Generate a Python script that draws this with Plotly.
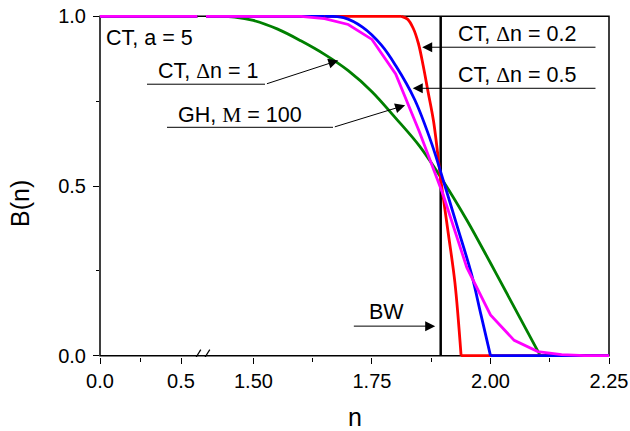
import plotly.graph_objects as go

FONT = "Liberation Sans, Arial, sans-serif"
SERIF = "Liberation Serif, Times New Roman, serif"

N_MIN, N_MAX = 1.40, 2.25   # n span drawn to the right of the axis break

# Start of the n axis, before the break: every profile sits at B = 1 there
n_low = [0.0, 0.6]
b_low = [1.0, 1.0]

# CT, Δn = 0.2 (falling part)
n_ct02 = [1.812, 1.825, 1.837, 1.848, 1.858, 1.868, 1.880, 1.896, 1.911, 1.925, 1.938]
b_ct02 = [1.0, 0.992, 0.965, 0.92, 0.855, 0.78, 0.69, 0.51, 0.36, 0.215, 0.0]

# CT, Δn = 0.5 (falling part)
n_ct05 = [1.65, 1.69, 1.73, 1.77, 1.80, 1.84, 1.876, 1.904, 1.93, 1.96, 1.98, 2.00]
b_ct05 = [1.0, 0.996, 0.968, 0.915, 0.855, 0.755, 0.625, 0.50, 0.38, 0.24, 0.12, 0.0]

# CT, Δn = 1 (falling part)
n_ct1 = [1.43, 1.46, 1.50, 1.55, 1.60, 1.65, 1.70, 1.75, 1.80, 1.85, 1.90,
         1.95, 2.00, 2.05, 2.105]
b_ct1 = [1.0, 0.998, 0.988, 0.963, 0.928, 0.888, 0.84, 0.778, 0.70, 0.618, 0.515,
         0.40, 0.273, 0.143, 0.0]

# GH, M = 100 (sampled every 0.05)
n_gh = [1.40, 1.45, 1.50, 1.55, 1.60, 1.65, 1.70, 1.75, 1.80, 1.85, 1.90,
        1.95, 2.00, 2.05, 2.10, 2.15, 2.20, 2.25]
b_gh = [1.0, 1.0, 1.0, 1.0, 1.0, 0.993, 0.976, 0.932, 0.83, 0.66, 0.475,
        0.26, 0.12, 0.045, 0.012, 0.003, 0.0, 0.0]

# Band-width (BW) edge
n_bw = [1.895, 1.895]
b_bw = [0.0, 1.0]

# Axis ticks
x1_ticks = [0.0, 0.5]
x1_labels = ["0.0", "0.5"]
x1_minor = [0.25]
x2_ticks = [1.50, 1.75, 2.00, 2.25]
x2_labels = ["1.50", "1.75", "2.00", "2.25"]
x2_minor = [1.625, 1.875, 2.125]
y_ticks = [0.0, 0.5, 1.0]
y_labels = ["0.0", "0.5", "1.0"]
y_minor = [0.25, 0.75]

RED, BLUE, GREEN, MAGENTA = "#ff0000", "#0000ff", "#008000", "#ff00ff"
LW = 2.8

fig = go.Figure()
fig.add_trace(go.Scatter(x=n_bw, y=b_bw, mode="lines", xaxis="x2", yaxis="y",
                         line=dict(color="black", width=2.5), name="BW"))


def add_left(col, name):
    fig.add_trace(go.Scatter(x=n_low, y=b_low, mode="lines", xaxis="x", yaxis="y",
                             line=dict(color=col, width=LW), name=name))


def add_smooth(n, b, col, name):
    """Flat top, smooth fall, flat zero tail."""
    add_left(col, name)
    fig.add_trace(go.Scatter(x=[N_MIN, n[0]], y=[b[0], b[0]], mode="lines",
                             xaxis="x2", yaxis="y", line=dict(color=col, width=LW),
                             name=name))
    fig.add_trace(go.Scatter(x=n, y=b, mode="lines", xaxis="x2", yaxis="y",
                             line=dict(color=col, width=LW, shape="spline", smoothing=1.0),
                             name=name))
    fig.add_trace(go.Scatter(x=[n[-1], N_MAX], y=[b[-1], b[-1]], mode="lines",
                             xaxis="x2", yaxis="y", line=dict(color=col, width=LW),
                             name=name))


add_smooth(n_ct1, b_ct1, GREEN, "CT, Δn = 1")
add_smooth(n_ct02, b_ct02, RED, "CT, Δn = 0.2")
add_smooth(n_ct05, b_ct05, BLUE, "CT, Δn = 0.5")
add_left(MAGENTA, "GH, M = 100")
fig.add_trace(go.Scatter(x=n_gh, y=b_gh, mode="lines", xaxis="x2", yaxis="y",
                         line=dict(color=MAGENTA, width=LW), name="GH, M = 100"))

SPLIT = 0.199
L, R, T, B = 100, 21, 15, 74
W, H = 630, 431
PW = W - L - R


def px(xp):
    """Horizontal pixel position -> paper fraction."""
    return (xp - L) / PW


tick_font = dict(family=FONT, size=20, color="black")
axis_common = dict(showgrid=False, zeroline=False, showline=False,
                   ticks="outside", ticklen=6, tickwidth=1.3, tickcolor="black",
                   tickfont=tick_font, fixedrange=True, automargin=False)
minor_common = dict(tickmode="array", ticks="outside", ticklen=3.5,
                    tickwidth=1.3, tickcolor="black")

fig.update_layout(
    width=W, height=H,
    margin=dict(l=L, r=R, t=T, b=B, pad=0, autoexpand=False),
    paper_bgcolor="white", plot_bgcolor="white",
    showlegend=False,
    font=dict(family=FONT, color="black"),
    xaxis=dict(domain=[0, SPLIT], range=[0, 0.625], anchor="y",
               tickmode="array", tickvals=x1_ticks, ticktext=x1_labels,
               minor=dict(tickvals=x1_minor, **minor_common), **axis_common),
    xaxis2=dict(domain=[SPLIT, 1], range=[1.39, N_MAX], anchor="y",
                tickmode="array", tickvals=x2_ticks, ticktext=x2_labels,
                minor=dict(tickvals=x2_minor, **minor_common), **axis_common),
    yaxis=dict(domain=[0, 1], range=[-0.004, 1.004], anchor="x",
               tickmode="array", tickvals=y_ticks, ticktext=y_labels,
               ticklabelstandoff=3,
               minor=dict(tickvals=y_minor, **minor_common), **axis_common),
)

shapes = [
    # frame
    dict(type="rect", xref="paper", yref="y", x0=0, x1=1, y0=0, y1=1,
         line=dict(color="black", width=1.5), layer="below"),
    # axis break marks
    dict(type="line", xref="paper", yref="y", xsizemode="pixel", ysizemode="pixel",
         xanchor=SPLIT, yanchor=0, x0=-8.5, x1=-0.5, y0=-7, y1=6,
         line=dict(color="black", width=1.2)),
    dict(type="line", xref="paper", yref="y", xsizemode="pixel", ysizemode="pixel",
         xanchor=SPLIT, yanchor=0, x0=0.3, x1=8.5, y0=-7, y1=6,
         line=dict(color="black", width=1.2)),
    # label underlines
    dict(type="line", xref="paper", yref="y", x0=px(147), x1=px(265), y0=0.800, y1=0.800,
         line=dict(color="black", width=1)),
    dict(type="line", xref="paper", yref="y", x0=px(167), x1=px(333), y0=0.673, y1=0.673,
         line=dict(color="black", width=1)),
]
fig.update_layout(shapes=shapes)

lab_font = dict(family=FONT, size=21.5, color="black")
D = f"<span style='font-family:{SERIF}'>Δ</span>"
M = f"<span style='font-family:{SERIF}'>M</span>"

labels = [
    dict(text="CT, a = 5", xref="paper", yref="y", x=px(104), y=0.935, xanchor="left"),
    dict(text=f"CT, {D}n = 1", xref="paper", yref="y", x=px(207.5), y=0.838, xanchor="center"),
    dict(text=f"GH, {M} = 100", xref="paper", yref="y", x=px(239.5), y=0.710, xanchor="center"),
    dict(text=f"CT, {D}n = 0.2", xref="x2", yref="y", x=2.056, y=0.947, xanchor="center"),
    dict(text=f"CT, {D}n = 0.5", xref="x2", yref="y", x=2.056, y=0.826, xanchor="center"),
    dict(text="BW", xref="x2", yref="y", x=1.781, y=0.128, xanchor="center"),
]
annotations = []
for a in labels:
    a.update(showarrow=False, yanchor="middle", font=lab_font)
    annotations.append(a)

arrows = [
    # (tail n, tail B, tip n, tip B)
    (1.5253, 0.800, 1.679, 0.870),
    (1.6685, 0.673, 1.820, 0.738),
    (2.2247, 0.909, 1.856, 0.909),
    (2.2247, 0.788, 1.836, 0.788),
    (1.7086, 0.087, 1.8834, 0.087),
]
for tx, ty, hx, hy in arrows:
    annotations.append(dict(text="", x=hx, y=hy, xref="x2", yref="y",
                            ax=tx, ay=ty, axref="x2", ayref="y",
                            showarrow=True, arrowhead=2, arrowsize=2.0,
                            arrowwidth=1, arrowcolor="black",
                            standoff=0, startstandoff=0))

# axis titles
annotations.append(dict(text="n", xref="paper", yref="paper", x=px(354.5),
                        y=(H - B - 417) / (H - T - B), showarrow=False,
                        xanchor="center", yanchor="middle",
                        font=dict(family=FONT, size=25, color="black")))
annotations.append(dict(text="B(n)", xref="paper", yref="paper", x=px(20),
                        y=(H - B - 204) / (H - T - B), showarrow=False,
                        textangle=-90, xanchor="center", yanchor="middle",
                        font=dict(family=FONT, size=25, color="black")))

fig.update_layout(annotations=annotations)

fig.write_html("out.html")
